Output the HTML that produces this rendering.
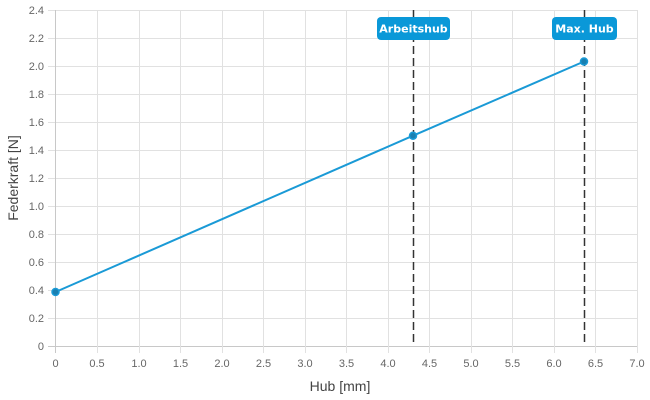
<!DOCTYPE html>
<html><head><style>body{margin:0;background:#fff}svg{display:block}</style></head><body>
<svg width="650" height="400" xmlns="http://www.w3.org/2000/svg" font-family="'Liberation Sans',sans-serif">
<g stroke="#e1e1e1" stroke-width="1">
<line x1="48" y1="346.5" x2="638" y2="346.5" stroke="#c8c8c8"/>
<line x1="48" y1="318.5" x2="638" y2="318.5"/><line x1="48" y1="290.5" x2="638" y2="290.5"/>
<line x1="48" y1="262.5" x2="638" y2="262.5"/><line x1="48" y1="234.5" x2="638" y2="234.5"/>
<line x1="48" y1="206.5" x2="638" y2="206.5"/><line x1="48" y1="178.5" x2="638" y2="178.5"/>
<line x1="48" y1="150.5" x2="638" y2="150.5"/><line x1="48" y1="122.5" x2="638" y2="122.5"/>
<line x1="48" y1="94.5" x2="638" y2="94.5"/><line x1="48" y1="66.5" x2="638" y2="66.5"/>
<line x1="48" y1="38.5" x2="638" y2="38.5"/><line x1="48" y1="10.5" x2="638" y2="10.5"/>
<line x1="55.5" y1="10" x2="55.5" y2="353" stroke="#c8c8c8"/>
<line x1="97.5" y1="10" x2="97.5" y2="353"/><line x1="139.5" y1="10" x2="139.5" y2="353"/>
<line x1="180.5" y1="10" x2="180.5" y2="353"/><line x1="222.5" y1="10" x2="222.5" y2="353"/>
<line x1="263.5" y1="10" x2="263.5" y2="353"/><line x1="305.5" y1="10" x2="305.5" y2="353"/>
<line x1="346.5" y1="10" x2="346.5" y2="353"/><line x1="388.5" y1="10" x2="388.5" y2="353"/>
<line x1="429.5" y1="10" x2="429.5" y2="353"/><line x1="471.5" y1="10" x2="471.5" y2="353"/>
<line x1="512.5" y1="10" x2="512.5" y2="353"/><line x1="554.5" y1="10" x2="554.5" y2="353"/>
<line x1="595.5" y1="10" x2="595.5" y2="353"/><line x1="637.5" y1="10" x2="637.5" y2="353"/>
</g>
<g font-size="11" fill="#666" text-anchor="end">
<text x="44" y="350">0</text><text x="44" y="322">0.2</text><text x="44" y="294">0.4</text>
<text x="44" y="266">0.6</text><text x="44" y="238">0.8</text><text x="44" y="210">1.0</text>
<text x="44" y="182">1.2</text><text x="44" y="154">1.4</text><text x="44" y="126">1.6</text>
<text x="44" y="98">1.8</text><text x="44" y="70">2.0</text><text x="44" y="42">2.2</text><text x="44" y="14">2.4</text>
</g>
<g font-size="11" fill="#666" text-anchor="middle">
<text x="55.5" y="367">0</text><text x="97" y="367">0.5</text><text x="139" y="367">1.0</text>
<text x="180.5" y="367">1.5</text><text x="222" y="367">2.0</text><text x="263.5" y="367">2.5</text>
<text x="305" y="367">3.0</text><text x="346.5" y="367">3.5</text><text x="388" y="367">4.0</text>
<text x="429.5" y="367">4.5</text><text x="471" y="367">5.0</text><text x="512.5" y="367">5.5</text>
<text x="554" y="367">6.0</text><text x="595.5" y="367">6.5</text><text x="637" y="367">7.0</text>
</g>
<text x="340" y="391" font-size="14" fill="#444" text-anchor="middle">Hub [mm]</text>
<text transform="translate(18,178) rotate(-90)" font-size="14" fill="#444" text-anchor="middle">Federkraft [N]</text>
<g stroke="#333" stroke-width="1.5" stroke-dasharray="8,4">
<line x1="413.5" y1="10" x2="413.5" y2="346"/><line x1="584.5" y1="10" x2="584.5" y2="346"/>
</g>
<polyline points="55.5,292 413,135.7 584,61.5" fill="none" stroke="#1a9ad6" stroke-width="2"/>
<g fill="#1a7fb0" stroke="#1a9ad6" stroke-width="1.5">
<circle cx="55.5" cy="292" r="3.5"/><circle cx="413" cy="135.7" r="3.5"/><circle cx="584" cy="61.5" r="3.5"/>
</g>
<rect x="377" y="17" width="73" height="23" rx="4" fill="#0a98d8"/>
<rect x="552" y="17" width="65" height="23" rx="4" fill="#0a98d8"/>
<g font-family="'DejaVu Sans',sans-serif" font-size="11" font-weight="bold" fill="#fff" text-anchor="middle">
<text x="413.5" y="32.5">Arbeitshub</text><text x="584.5" y="32.5">Max. Hub</text>
</g>
</svg>
</body></html>
